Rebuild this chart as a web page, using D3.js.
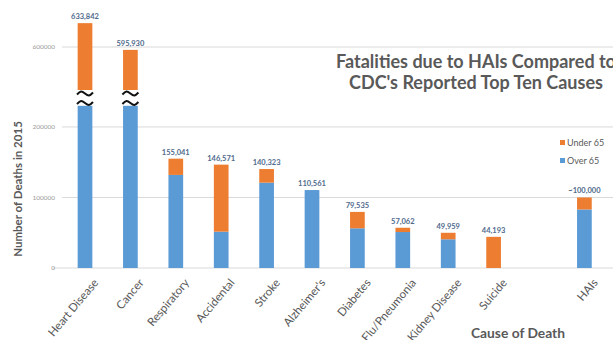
<!DOCTYPE html>
<html>
<head>
<meta charset="utf-8">
<script src="https://cdn.jsdelivr.net/npm/d3@7"></script>
<style>
  body { margin: 0; background: #fff; }
  svg { display: block; font-family: Lato, "Open Sans", sans-serif; }
</style>
</head>
<body>
<svg width="613" height="340"></svg>
<script>
// categories (the blank slot is the gap before HAIs)
var categories = ["Heart Disease", "Cancer", "Respiratory", "Accidental", "Stroke",
  "Alzheimer's", "Diabetes", "Flu/Pneumonia", "Kidney Disease", "Suicide", "", "HAIs"];
var over65  = [507000, 418000, 132000, 51500, 121000, 110561, 56300, 51000, 40700, 0, null, 83000];
var under65 = [126842, 177930, 23041, 95071, 19323, 0, 23235, 6062, 9259, 44193, null, 17000];
var valueLabels = ["633,842", "595,930", "155,041", "146,571", "140,323", "110,561",
  "79,535", "57,062", "49,959", "44,193", "", "~100,000"];
var yTicks = [0, 100000, 200000, 600000];
var broken = ["Heart Disease", "Cancer"];

var data = categories.map(function(c, i) {
  return { cat: c, over: over65[i], under: under65[i], label: valueLabels[i] };
}).filter(function(d) { return d.cat !== ""; });

var svg = d3.select("svg");

var x = d3.scaleBand().domain(categories).range([62.3, 607.1]);
var barW = 14.7;

// broken axis: 230k..540k squeezed into a small gap
var y = d3.scaleLinear()
  .domain([0, 230000, 540000, 700000])
  .range([268, 105.8, 89.3, -23.5]);

var blue = "#5b9bd5", orange = "#ed7d31";

// gridlines + tick labels
svg.append("g").selectAll("line")
  .data(yTicks)
  .join("line")
  .attr("x1", function(d) { return d === 0 ? 53 : 62; })
  .attr("x2", 613)
  .attr("y1", function(d) { return y(d); })
  .attr("y2", function(d) { return y(d); })
  .attr("stroke", "#d9d9d9")
  .attr("stroke-width", 1);

svg.append("g").selectAll("text")
  .data(yTicks)
  .join("text")
  .attr("x", 55)
  .attr("y", function(d) { return y(d); })
  .attr("dy", "0.35em")
  .attr("text-anchor", "end")
  .attr("font-size", 6.5)
  .attr("fill", "#9a9a9a")
  .text(function(d) { return d; });

// bars
var bars = svg.append("g");
bars.selectAll("rect.over")
  .data(data)
  .join("rect")
  .attr("class", "over")
  .attr("x", function(d) { return x(d.cat) + x.bandwidth() / 2 - barW / 2; })
  .attr("width", barW)
  .attr("y", function(d) { return y(d.over); })
  .attr("height", function(d) { return y(0) - y(d.over); })
  .attr("fill", blue);

bars.selectAll("rect.under")
  .data(data)
  .join("rect")
  .attr("class", "under")
  .attr("x", function(d) { return x(d.cat) + x.bandwidth() / 2 - barW / 2; })
  .attr("width", barW)
  .attr("y", function(d) { return y(d.over + d.under); })
  .attr("height", function(d) { return y(d.over) - y(d.over + d.under); })
  .attr("fill", orange);

// axis break marks
var wave = d3.line().curve(d3.curveNatural);
var brk = svg.append("g").selectAll("g")
  .data(broken)
  .join("g")
  .attr("transform", function(d) { return "translate(" + (x(d) + x.bandwidth() / 2) + ",0)"; });
brk.append("rect")
  .attr("x", -9).attr("width", 18)
  .attr("y", y(540000) + 0.7).attr("height", y(230000) - y(540000) - 0.7)
  .attr("fill", "#fff");
[93.5, 103].forEach(function(yy) {
  brk.append("path")
    .attr("d", wave([[-8, yy + 1], [-4, yy - 2], [0, yy], [4, yy + 2], [8, yy - 1]]))
    .attr("fill", "none")
    .attr("stroke", "#111")
    .attr("stroke-width", 2);
});

// value labels
svg.append("g").selectAll("text")
  .data(data)
  .join("text")
  .attr("x", function(d) { return x(d.cat) + x.bandwidth() / 2; })
  .attr("y", function(d) { return y(d.over + d.under) - 4; })
  .attr("text-anchor", "middle")
  .attr("font-size", 7.5)
  .attr("font-weight", "bold")
  .attr("fill", "#4f6a8c")
  .text(function(d) { return d.label; });

// category labels
svg.append("g").selectAll("text")
  .data(data)
  .join("text")
  .attr("transform", function(d) {
    return "translate(" + (x(d.cat) + x.bandwidth() / 2 + 14) + ",283) rotate(-50)";
  })
  .attr("text-anchor", "end")
  .attr("font-size", 11.5)
  .attr("fill", "#595959")
  .text(function(d) { return d.cat; });

// axis titles
svg.append("text")
  .attr("transform", "translate(22,189) rotate(-90)")
  .attr("text-anchor", "middle")
  .attr("font-size", 11.5)
  .attr("font-weight", "bold")
  .attr("fill", "#595959")
  .text("Number of Deaths in 2015");

svg.append("text")
  .attr("x", 518).attr("y", 338)
  .attr("text-anchor", "middle")
  .attr("font-size", 13.8)
  .attr("font-weight", "bold")
  .attr("fill", "#595959")
  .text("Cause of Death");

// title
var title = svg.append("text")
  .attr("text-anchor", "middle")
  .attr("font-size", 18)
  .attr("font-weight", "bold")
  .attr("fill", "#595959");
title.append("tspan").attr("x", 476).attr("y", 68).text("Fatalities due to HAIs Compared to");
title.append("tspan").attr("x", 476).attr("y", 89).text("CDC's Reported Top Ten Causes");

// legend
var legend = svg.append("g").selectAll("g")
  .data([["Under 65", orange], ["Over 65", blue]])
  .join("g")
  .attr("transform", function(d, i) { return "translate(560," + (143 + i * 18) + ")"; });
legend.append("rect")
  .attr("x", 0).attr("y", -3).attr("width", 5).attr("height", 5)
  .attr("fill", function(d) { return d[1]; });
legend.append("text")
  .attr("x", 7).attr("dy", "0.35em")
  .attr("font-size", 9)
  .attr("fill", "#595959")
  .text(function(d) { return d[0]; });
</script>
</body>
</html>
